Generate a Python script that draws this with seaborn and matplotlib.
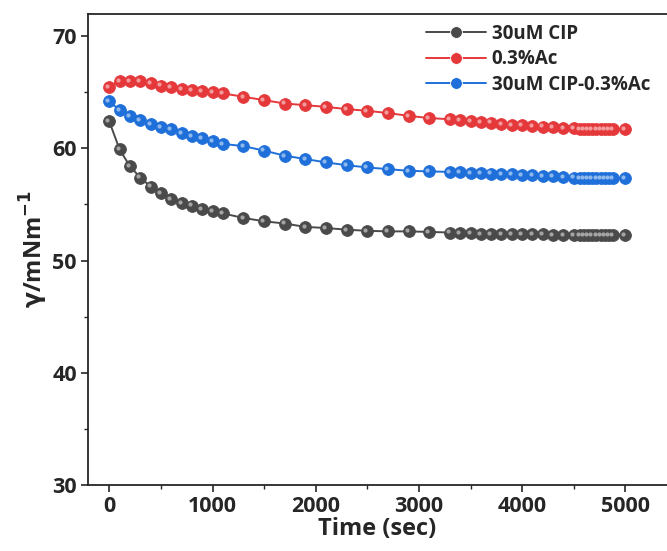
import numpy as np
import pandas as pd
import seaborn as sns
import matplotlib.pyplot as plt
from matplotlib.ticker import MultipleLocator

# time points (s)
time = ([0, 100, 200, 300, 400, 500, 600, 700, 800, 900, 1000, 1100]
        + [1300, 1500, 1700, 1900, 2100, 2300, 2500, 2700, 2900, 3100]
        + [3300, 3400, 3500, 3600, 3700, 3800, 3900, 4000, 4100, 4200, 4300, 4400, 4500]
        + [4560, 4600, 4640, 4680, 4720, 4760, 4800, 4840, 4880]
        + [5000])

cip = ([62.4, 59.9, 58.4, 57.4, 56.6, 56.0, 55.5, 55.1, 54.9, 54.6, 54.4, 54.2]
       + [53.8, 53.5, 53.3, 53.0, 52.9, 52.75, 52.65, 52.6, 52.6, 52.55]
       + [52.5, 52.45, 52.45, 52.4, 52.4, 52.4, 52.35, 52.35, 52.35, 52.35, 52.3, 52.3, 52.3]
       + [52.3, 52.3, 52.3, 52.3, 52.3, 52.3, 52.3, 52.3, 52.3]
       + [52.3])

ac = ([65.5, 66.0, 66.0, 66.0, 65.8, 65.6, 65.5, 65.3, 65.2, 65.1, 65.0, 64.9]
      + [64.6, 64.3, 64.0, 63.85, 63.7, 63.5, 63.35, 63.15, 62.9, 62.7]
      + [62.6, 62.5, 62.4, 62.35, 62.3, 62.2, 62.1, 62.05, 62.0, 61.95, 61.9, 61.85, 61.8]
      + [61.75, 61.75, 61.7, 61.7, 61.7, 61.7, 61.7, 61.7, 61.7]
      + [61.7])

cip_ac = ([64.2, 63.4, 62.9, 62.5, 62.2, 61.9, 61.7, 61.4, 61.1, 60.9, 60.65, 60.4]
          + [60.2, 59.8, 59.35, 59.05, 58.75, 58.5, 58.3, 58.15, 58.0, 57.95]
          + [57.9, 57.85, 57.8, 57.8, 57.75, 57.7, 57.7, 57.65, 57.6, 57.55, 57.5, 57.45, 57.4]
          + [57.35, 57.35, 57.35, 57.35, 57.35, 57.35, 57.35, 57.35, 57.35]
          + [57.35])

labels = ["30uM CIP", "0.3%Ac", "30uM CIP-0.3%Ac"]
colors = ["#4a4a4a", "#e5383b", "#1e6fd9"]

df = pd.concat([
    pd.DataFrame({"Time": time, "gamma": vals, "Sample": lab})
    for vals, lab in zip([cip, ac, cip_ac], labels)
])

sns.set_style("ticks")
plt.rcParams["font.family"] = ["Open Sans", "DejaVu Sans"]
plt.rcParams["font.weight"] = "bold"
plt.rcParams["mathtext.default"] = "bf"

fig = plt.figure(figsize=(6.67, 5.51), dpi=100)
ax = fig.add_axes([0.132, 0.12, 0.868, 0.855])

sns.lineplot(data=df, x="Time", y="gamma", hue="Sample", hue_order=labels,
             palette=colors, marker="o", markersize=8.5, markeredgewidth=0.6,
             linewidth=1.4, ax=ax)

# little highlight on each marker to hint at the shaded spheres
for vals, c in zip([cip, ac, cip_ac], colors):
    ax.plot(np.array(time) - 18, np.array(vals) + 0.1, "o", ms=3,
            color="white", alpha=0.5, mec="none")
for line, c in zip(ax.get_lines()[:3], colors):
    line.set_markeredgecolor(c)

ax.set_xlim(-206, 5404)
ax.set_ylim(30, 72)
ax.xaxis.set_major_locator(MultipleLocator(1000))
ax.xaxis.set_minor_locator(MultipleLocator(500))
ax.yaxis.set_major_locator(MultipleLocator(10))
ax.yaxis.set_minor_locator(MultipleLocator(5))
ax.tick_params(which="major", direction="out", length=5, width=1.2, labelsize=15.5, pad=3)
ax.tick_params(which="minor", direction="out", length=3, width=1.0)
for s in ["left", "bottom", "top"]:
    ax.spines[s].set_linewidth(1.3)
ax.spines["right"].set_visible(False)

ax.set_xlabel("Time (sec)", fontsize=17, fontweight="bold", labelpad=0)
ax.set_ylabel("$\\mathrm{\\gamma}$/mNm$^{-1}$", fontsize=17, fontweight="bold", labelpad=2)

leg = ax.legend(loc="upper right", bbox_to_anchor=(1.0, 1.015), frameon=False,
                handlelength=3.2, labelspacing=0.3, handletextpad=0.3,
                title=None, prop={"weight": "bold", "size": 13.5})

fig.savefig("out.png", dpi=100)
